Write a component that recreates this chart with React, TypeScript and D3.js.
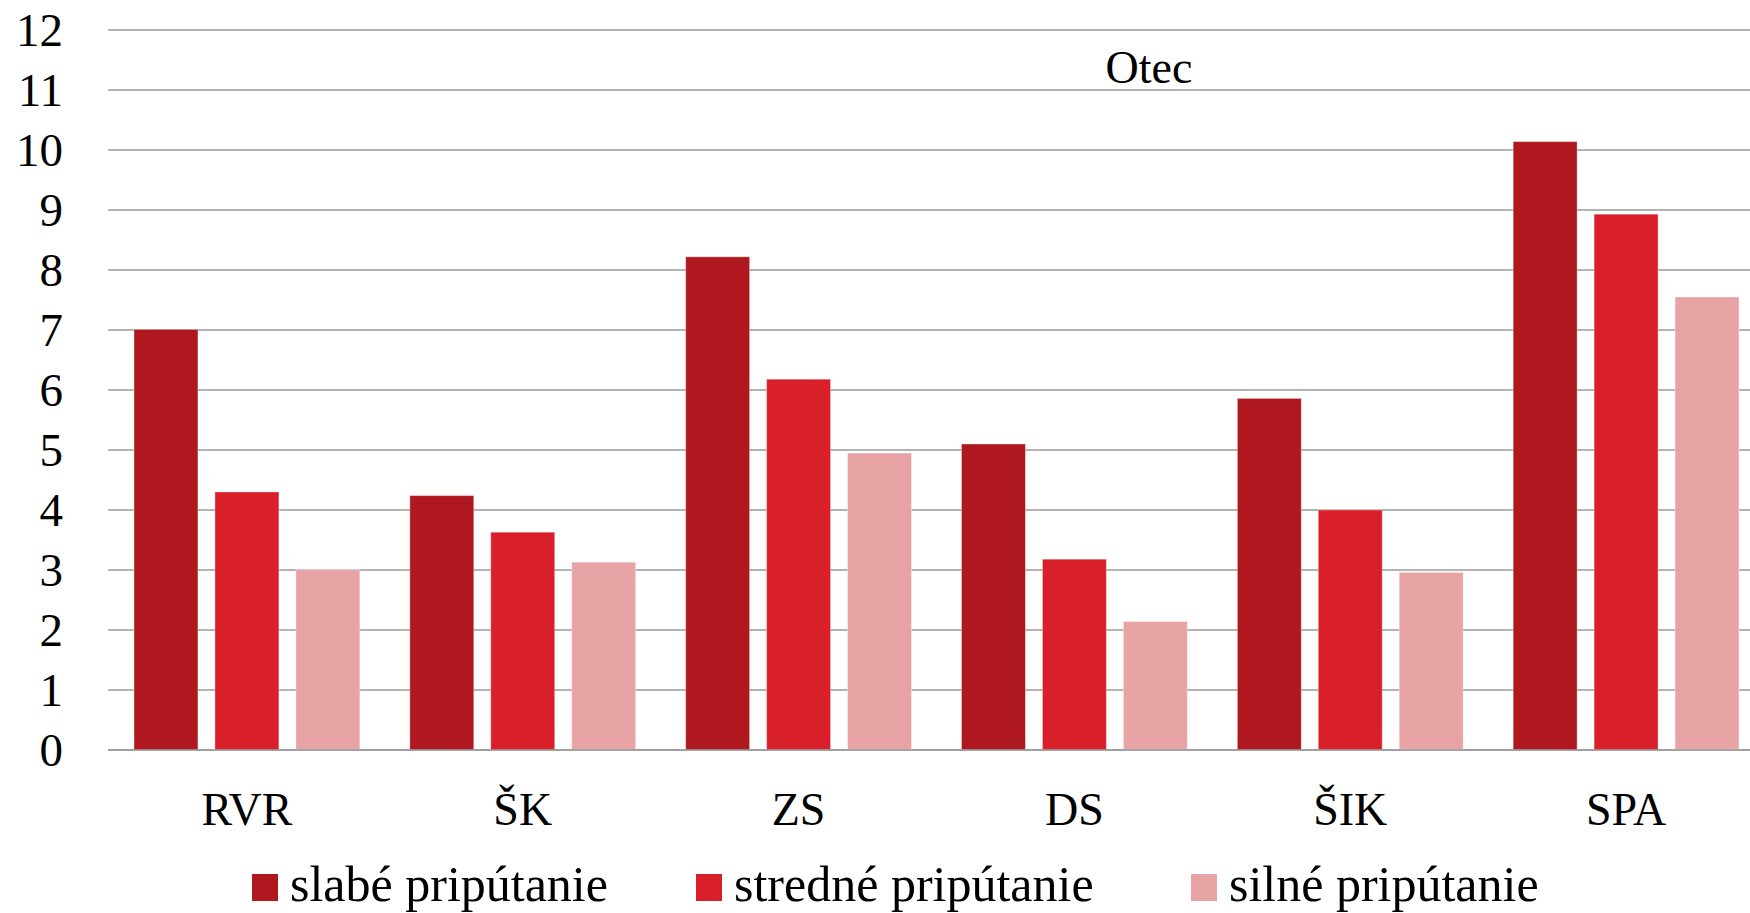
import React from "react";
import * as d3 from "d3";

const categories = ["RVR", "ŠK", "ZS", "DS", "ŠIK", "SPA"];
const seriesNames = ["slabé pripútanie", "stredné pripútanie", "silné pripútanie"];
const slabe = [7.01, 4.24, 8.22, 5.1, 5.86, 10.14];
const stredne = [4.3, 3.63, 6.18, 3.18, 4.0, 8.93];
const silne = [3.01, 3.13, 4.95, 2.14, 2.96, 7.55];
const seriesValues = [slabe, stredne, silne];
const colors = ["#B01820", "#D91F2A", "#E8A3A5"];
const yTicks = d3.range(0, 13);
const title = "Otec";

const W = 1750;
const H = 913;
const FONT = "'Liberation Serif', 'DejaVu Serif', serif";

export default function App() {
  const left = 108;
  const right = 1750;
  const y = d3.scaleLinear().domain([0, 12]).range([750, 30]);
  const x0 = d3.scaleBand<string>().domain(categories).range([left, 1763]);
  const bw = x0.bandwidth();
  const x1 = d3
    .scaleBand<string>()
    .domain(seriesNames)
    .range([26, bw - 24])
    .paddingInner(0.21);

  const legendX = [252, 696, 1191];

  return (
    <svg
      width={W}
      height={H}
      style={{ position: "absolute", left: 0, top: 0, display: "block", background: "#fff" }}
      fontFamily={FONT}
    >
      {yTicks.map((t) => (
        <g key={t}>
          <line x1={left} x2={right} y1={y(t)} y2={y(t)} stroke="#9a9a9a" strokeWidth={1.6} />
          <text x={63} y={y(t)} dy="0.35em" textAnchor="end" fontSize={47} fill="#000">
            {t}
          </text>
        </g>
      ))}
      {categories.map((c, i) => (
        <g key={c} transform={`translate(${x0(c)},0)`}>
          {seriesNames.map((s, j) => (
            <rect
              key={s}
              x={x1(s)}
              y={y(seriesValues[j][i])}
              width={x1.bandwidth()}
              height={y(0) - y(seriesValues[j][i])}
              fill={colors[j]}
              stroke="rgba(255,255,255,0.35)"
              strokeWidth={1}
            />
          ))}
          <text x={x1("stredné pripútanie")! + x1.bandwidth() / 2} y={825} textAnchor="middle" fontSize={46} fill="#000">
            {c}
          </text>
        </g>
      ))}
      <line x1={left} x2={right} y1={y(0)} y2={y(0)} stroke="#9a9a9a" strokeWidth={1.6} />
      <text x={1149} y={83} textAnchor="middle" fontSize={46} fill="#000">
        {title}
      </text>
      {seriesNames.map((s, j) => (
        <g key={s}>
          <rect x={legendX[j]} y={874} width={26} height={27} fill={colors[j]} />
          <text x={legendX[j] + 38} y={901} fontSize={50} fill="#000">
            {s}
          </text>
        </g>
      ))}
    </svg>
  );
}
